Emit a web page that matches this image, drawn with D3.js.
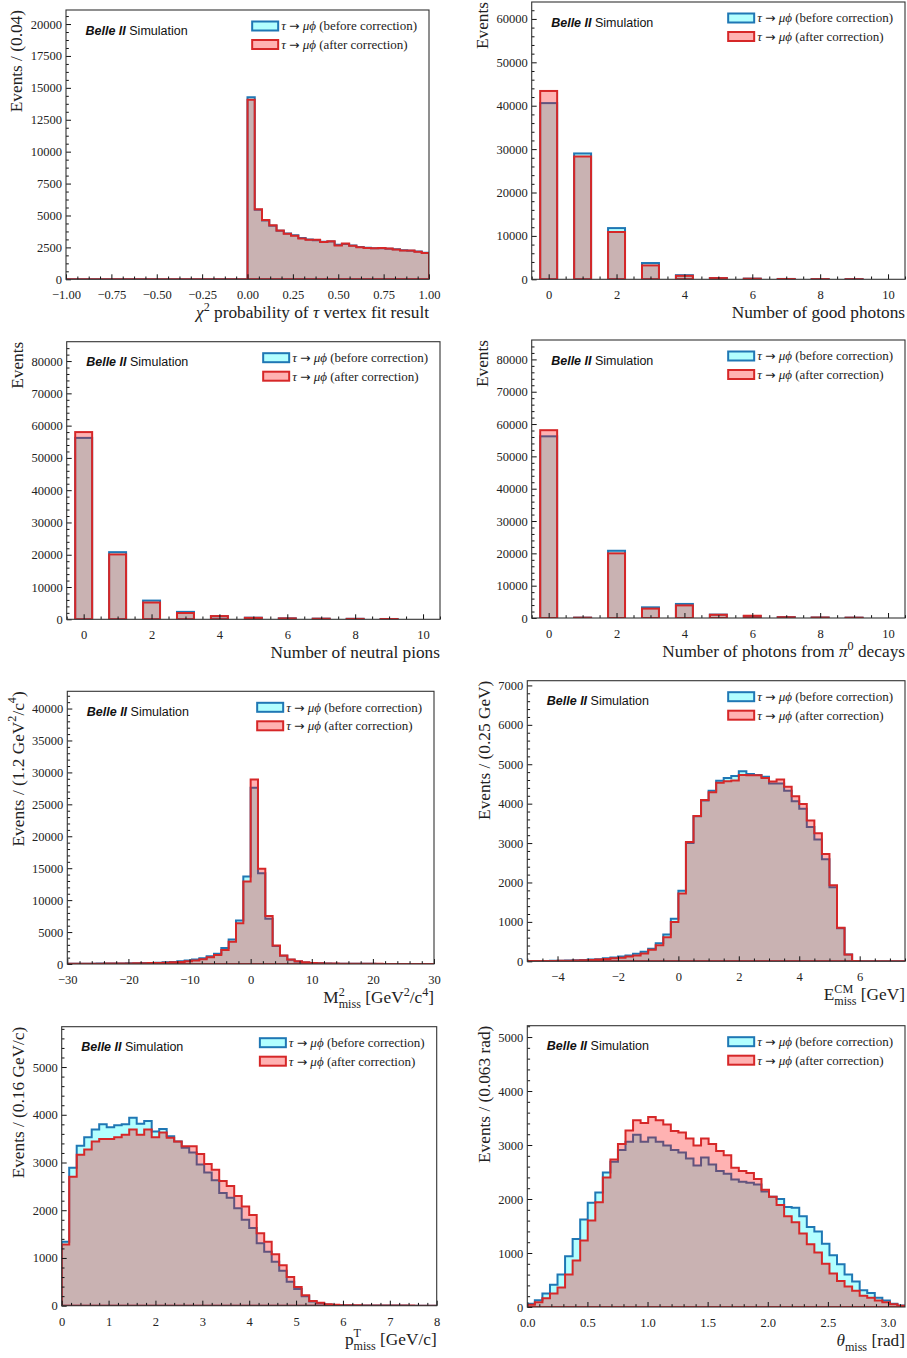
<!DOCTYPE html>
<html><head><meta charset="utf-8">
<script src="https://cdn.jsdelivr.net/npm/d3@7"></script>
<style>body{margin:0;background:#fff}svg{display:block}text{white-space:pre}</style>
</head><body>
<script>
// ---------------- DATA ----------------
// Panel 1: chi2 probability (50 bins, -1..1)
const chi2Range = [-1, 1];
const chi2Before = [0,0,0,0,0,0,0,0,0,0,0,0,0,0,0,0,0,0,0,0,0,0,0,0,0,
  14270,5450,4600,4200,3800,3580,3450,3230,3120,3060,2950,2960,2700,2760,2640,2540,2470,2440,2430,2400,2350,2280,2230,2170,2080];
const chi2After = [0,0,0,0,0,0,0,0,0,0,0,0,0,0,0,0,0,0,0,0,0,0,0,0,0,
  14070,5490,4650,4240,3820,3560,3420,3200,3100,3090,2930,2990,2650,2800,2620,2520,2450,2430,2460,2420,2330,2260,2250,2150,2060];
const chi2XTicks = [-1,-0.75,-0.5,-0.25,0,0.25,0.5,0.75,1];
const chi2YTicks = [0,2500,5000,7500,10000,12500,15000,17500,20000];

// Panel 2: number of good photons
const photonCats = [0,1,2,3,4,5,6,7,8,9];
const photonBefore = [40600,29000,11800,3750,950,300,150,80,50,30];
const photonAfter  = [43400,28300,10900,3200,800,280,140,70,40,25];

// Panel 3: number of neutral pions
const pionCats = [0,1,2,3,4,5,6,7,8,9];
const pionBefore = [56200,20800,5800,2300,950,500,300,200,150,100];
const pionAfter  = [58000,20100,5200,1950,1000,450,280,180,130,90];

// Panel 4: number of photons from pi0 decays
const pi0GammaCats = [0,1,2,3,4,5,6,7,8,9];
const pi0GammaBefore = [56200,100,20800,3300,4350,1050,600,300,150,100];
const pi0GammaAfter  = [58100,100,20000,2900,3900,1000,700,250,150,100];

const countXTicks = [0,2,4,6,8,10];
const photonYTicks = [0,10000,20000,30000,40000,50000,60000];
const pionYTicks = [0,10000,20000,30000,40000,50000,60000,70000,80000];

// Panel 5: M2 miss (50 bins, -30..30)
const m2Range = [-30, 30];
const m2Before = [40,45,50,55,60,70,80,90,100,120,140,170,210,260,330,420,550,700,900,1200,1600,2500,3850,6800,13700,
  27600,14200,7100,2800,1300,650,400,250,150,100,75,55,40,32,28,24,21,19,17,14,13,11,10,9,8];
const m2After = [40,40,45,50,55,60,70,80,90,100,120,140,170,210,260,320,420,550,750,1050,1400,2200,3500,6400,12900,
  28900,14900,7500,2900,1350,700,420,260,160,110,80,60,45,35,30,25,22,20,18,15,14,12,10,10,8];
const m2XTicks = [-30,-20,-10,0,10,20,30];
const m2YTicks = [0,5000,10000,15000,20000,25000,30000,35000,40000];

// Panel 6: E miss CM (50 bins, -5..7.5)
const eRange = [-5, 7.5];
const eBefore = [5,6,9,12,15,20,25,32,45,55,75,95,120,150,190,240,320,460,680,1080,
  1790,3000,3680,4080,4330,4580,4650,4700,4820,4750,4730,4680,4510,4510,4330,4060,3870,3410,3090,2590,
  1880,840,170,5,3,2,1,1,0,0];
const eAfter = [5,5,8,10,12,15,20,25,35,45,60,75,90,120,150,200,290,410,610,1000,
  1720,3030,3690,4090,4290,4530,4570,4590,4730,4720,4720,4650,4560,4610,4430,4190,3990,3570,3250,2720,
  1930,850,170,5,3,2,1,1,0,0];
const eXTicks = [-4,-2,0,2,4,6];
const eYTicks = [0,1000,2000,3000,4000,5000,6000,7000];

// Panel 7: pT miss (50 bins, 0..8)
const ptRange = [0, 8];
const ptBefore = [1340,2890,3350,3530,3690,3800,3740,3780,3800,3940,3810,3870,3650,3700,3550,3440,3310,3210,2960,2790,
  2630,2360,2260,2040,1800,1630,1310,1130,920,730,500,350,200,90,50,25,15,10,8,6,5,4,3,3,2,2,1,1,1,1];
const ptAfter = [1280,2700,3160,3270,3440,3490,3490,3530,3580,3690,3580,3690,3530,3630,3520,3440,3340,3340,3180,2970,
  2850,2610,2510,2300,2080,1900,1520,1340,1080,850,600,390,220,100,60,30,20,12,10,8,6,5,4,3,3,2,2,1,1,1];
const ptXTicks = [0,1,2,3,4,5,6,7,8];
const ptYTicks = [0,1000,2000,3000,4000,5000];

// Panel 8: theta miss (50 bins, 0..pi)
const thRange = [0, Math.PI];
const thBefore = [60,125,250,410,600,940,1260,1620,1930,2120,2490,2690,2910,3060,3190,3060,3140,3060,2990,2910,
  2860,2750,2620,2770,2640,2520,2470,2360,2320,2300,2270,2140,2040,2000,1850,1840,1680,1480,1400,1170,
  960,790,600,470,310,260,170,120,60,30];
const thAfter = [40,90,160,250,360,600,860,1230,1600,1940,2400,2730,3020,3270,3460,3410,3520,3460,3380,3260,
  3230,3120,2990,3120,3020,2890,2810,2580,2520,2480,2370,2170,2040,1890,1680,1570,1360,1160,1010,800,
  620,480,380,300,210,170,120,90,50,25];
const thXTicks = [0,0.5,1,1.5,2,2.5,3];
const thYTicks = [0,1000,2000,3000,4000,5000];

// Texts
const legendBefore = [{t:'τ',i:1},{t:' '},{t:'→',arrow:1},{t:' '},{t:'μϕ',i:1},{t:' (before correction)'}];
const legendAfter  = [{t:'τ',i:1},{t:' '},{t:'→',arrow:1},{t:' '},{t:'μϕ',i:1},{t:' (after correction)'}];

// ---------------- PANEL DEFINITIONS ----------------
const panels = [
  {kind:'hist', range:chi2Range, before:chi2Before, after:chi2After, yMax:21100,
   xTicks:chi2XTicks, xMinor:0.0625, yTicks:chi2YTicks, yMinor:625, xFmt:'.2f',
   xLabel:[{t:'χ',i:1},{t:'2',sup:1},{t:' probability of '},{t:'τ',i:1},{t:' vertex fit result'}],
   yLabel:[{t:'Events / (0.04)'}]},
  {kind:'bar', cats:photonCats, before:photonBefore, after:photonAfter, yMax:63900,
   xTicks:countXTicks, xMinor:0.5, yTicks:photonYTicks, yMinor:2000, xFmt:'d',
   xLabel:[{t:'Number of good photons'}], yLabel:[{t:'Events'}]},
  {kind:'bar', cats:pionCats, before:pionBefore, after:pionAfter, yMax:86000,
   xTicks:countXTicks, xMinor:0.5, yTicks:pionYTicks, yMinor:2000, xFmt:'d',
   xLabel:[{t:'Number of neutral pions'}], yLabel:[{t:'Events'}]},
  {kind:'bar', cats:pi0GammaCats, before:pi0GammaBefore, after:pi0GammaAfter, yMax:86000,
   xTicks:countXTicks, xMinor:0.5, yTicks:pionYTicks, yMinor:2000, xFmt:'d',
   xLabel:[{t:'Number of photons from '},{t:'π',i:1},{t:'0',sup:1},{t:' decays'}], yLabel:[{t:'Events'}]},
  {kind:'hist', range:m2Range, before:m2Before, after:m2After, yMax:42700,
   xTicks:m2XTicks, xMinor:2, yTicks:m2YTicks, yMinor:1000, xFmt:'d',
   xLabel:[{t:'M'},{t:'2',sup:1},{t:'miss',sub:1,stack:1},{t:' [GeV'},{t:'2',sup:1},{t:'/c'},{t:'4',sup:1},{t:']'}],
   yLabel:[{t:'Events / (1.2 GeV'},{t:'2',sup:1},{t:'/c'},{t:'4',sup:1},{t:')'}]},
  {kind:'hist', range:eRange, before:eBefore, after:eAfter, yMax:7120,
   xTicks:eXTicks, xMinor:0.5, yTicks:eYTicks, yMinor:200, xFmt:'d',
   xLabel:[{t:'E'},{t:'CM',sup:1},{t:'miss',sub:1,stack:1},{t:' [GeV]'}],
   yLabel:[{t:'Events / (0.25 GeV)'}]},
  {kind:'hist', range:ptRange, before:ptBefore, after:ptAfter, yMax:5845,
   xTicks:ptXTicks, xMinor:0.2, yTicks:ptYTicks, yMinor:200, xFmt:'d',
   xLabel:[{t:'p'},{t:'T',sup:1},{t:'miss',sub:1,stack:1},{t:' [GeV/c]'}],
   yLabel:[{t:'Events / (0.16 GeV/c)'}]},
  {kind:'hist', range:thRange, before:thBefore, after:thAfter, yMax:5210,
   xTicks:thXTicks, xMinor:0.1, yTicks:thYTicks, yMinor:200, xFmt:'.1f',
   xLabel:[{t:'θ',i:1},{t:'miss',sub:1},{t:' [rad]'}],
   yLabel:[{t:'Events / (0.063 rad)'}]}
];

// ---------------- LAYOUT / STYLE ----------------
const layout = [
  [66, 10, 429, 279.3],
  [531.7, 2, 905, 279.3],
  [66.7, 341.7, 440, 619.3],
  [531.7, 340, 905, 618],
  [67.3, 691.3, 434, 964],
  [527.3, 680.7, 905, 961.3],
  [61.7, 1026.7, 436.7, 1305.7],
  [527.3, 1025.7, 905, 1307]
];
const SERIF = '"Liberation Serif","Times New Roman",serif';
const SANS = '"Liberation Sans",Arial,sans-serif';
const blueFill = 'rgba(0,255,255,0.3)', blueEdge = '#1f77b4';
const redFill = 'rgba(255,0,0,0.3)', redEdge = '#d62728';
const tickFont = 12.5, labelFont = 17.3, legFont = 13;

const svg = d3.select('body').append('svg').attr('width', 907).attr('height', 1358);

function rich(textSel, segs, size) {
  let off = 0, lastSup = 0;
  segs.forEach(s => {
    const ts = textSel.append('tspan').text(s.t);
    let target = 0, fs = size;
    if (s.sup) { target = -size * 0.42; fs = size * 0.7; }
    if (s.sub) { target = size * 0.28; fs = size * 0.7; }
    ts.attr('font-size', fs);
    if (target - off !== 0) ts.attr('dy', target - off);
    off = target;
    if (s.i) ts.attr('font-style', 'italic');
    if (s.arrow) ts.attr('font-family', '"DejaVu Sans",sans-serif').attr('font-size', size * 0.95);
    if (s.stack) ts.attr('dx', -lastSup);
    if (s.sup) lastSup = ts.node().getComputedTextLength();
  });
  if (off !== 0) textSel.append('tspan').attr('dy', -off).text('');
}

panels.forEach((p, k) => {
  const [L, T, R, B] = layout[k];
  const g = svg.append('g');
  let x;
  if (p.kind === 'hist') x = d3.scaleLinear().domain(p.range).range([L, R]);
  else x = d3.scaleLinear().domain([-0.5, 10.5]).range([L, R]);
  const y = d3.scaleLinear().domain([0, p.yMax]).range([B, T]);

  const clipId = 'clip' + k;
  svg.append('clipPath').attr('id', clipId).append('rect')
    .attr('x', L).attr('y', T).attr('width', R - L).attr('height', B - T);
  const plot = g.append('g').attr('clip-path', `url(#${clipId})`);

  if (p.kind === 'hist') {
    const n = p.before.length;
    const w = (p.range[1] - p.range[0]) / n;
    const area = d3.area().x(d => x(d[0])).y0(y(0)).y1(d => y(d[1])).curve(d3.curveStepAfter);
    [[p.before, blueFill, blueEdge], [p.after, redFill, redEdge]].forEach(([vals, f, s]) => {
      const pts = vals.map((v, i) => [p.range[0] + i * w, v]);
      pts.push([p.range[1], vals[n - 1]]);
      plot.append('path').attr('d', area(pts)).attr('fill', f).attr('stroke', s)
        .attr('stroke-width', 2).attr('stroke-linejoin', 'miter');
    });
  } else {
    [[p.before, blueFill, blueEdge], [p.after, redFill, redEdge]].forEach(([vals, f, s]) => {
      plot.selectAll(null).data(p.cats).enter().append('rect')
        .attr('x', c => x(c - 0.25)).attr('width', c => x(c + 0.25) - x(c - 0.25))
        .attr('y', (c, i) => y(vals[i])).attr('height', (c, i) => y(0) - y(vals[i]))
        .attr('fill', f).attr('stroke', s).attr('stroke-width', 2);
    });
  }

  // axes
  const fmt = d3.format(p.xFmt);
  const xAx = g.append('g').attr('transform', `translate(0,${B})`)
    .call(d3.axisBottom(x).tickValues(p.xTicks).tickFormat(fmt).tickSizeInner(-5).tickSizeOuter(0).tickPadding(11.2));
  const xMin = d3.range(x.domain()[0], x.domain()[1] + 1e-9, p.xMinor).filter(v => !p.xTicks.some(t => Math.abs(t - v) < 1e-6));
  const xAxm = g.append('g').attr('transform', `translate(0,${B})`)
    .call(d3.axisBottom(x).tickValues(xMin).tickFormat('').tickSizeInner(-2.8).tickSizeOuter(0));
  const yAx = g.append('g').attr('transform', `translate(${L},0)`)
    .call(d3.axisLeft(y).tickValues(p.yTicks).tickFormat(d3.format('d')).tickSizeInner(-5).tickSizeOuter(0).tickPadding(4));
  const yMinV = d3.range(0, p.yMax, p.yMinor).filter(v => !p.yTicks.includes(v));
  const yAxm = g.append('g').attr('transform', `translate(${L},0)`)
    .call(d3.axisLeft(y).tickValues(yMinV).tickFormat('').tickSizeInner(-2.8).tickSizeOuter(0));
  [xAx, xAxm, yAx, yAxm].forEach(a => {
    a.select('.domain').remove();
    a.selectAll('line').attr('stroke', '#111').attr('stroke-width', 1);
    a.selectAll('text').attr('font-family', SERIF).attr('font-size', tickFont).attr('fill', '#222');
  });
  // frame
  g.append('rect').attr('x', L).attr('y', T).attr('width', R - L).attr('height', B - T)
    .attr('fill', 'none').attr('stroke', '#333').attr('stroke-width', 1.1);

  // y label position from tick label widths
  let maxW = 0;
  yAx.selectAll('text').each(function () { maxW = Math.max(maxW, this.getBBox().width); });
  const ylx = L - 4 - maxW - 8.5;
  const yl = g.append('text').attr('transform', `translate(${ylx},${T}) rotate(-90)`)
    .attr('text-anchor', 'end').attr('font-family', SERIF).attr('font-size', labelFont).attr('fill', '#222');
  rich(yl, p.yLabel, labelFont);

  const xl = g.append('text').attr('x', R).attr('y', B + 39).attr('text-anchor', 'end')
    .attr('font-family', SERIF).attr('font-size', labelFont).attr('fill', '#222');
  rich(xl, p.xLabel, labelFont);

  // Belle II Simulation
  const bt = g.append('text').attr('x', L + 19.5).attr('y', T + 24.5)
    .attr('font-family', SANS).attr('font-size', 12.5).attr('fill', '#111');
  bt.append('tspan').attr('font-weight', 'bold').attr('font-style', 'italic').text('Belle II');
  bt.append('tspan').text(' Simulation');

  // legend
  const legRows = [[legendBefore, blueFill, blueEdge, 16], [legendAfter, redFill, redEdge, 34.5]];
  const legTexts = legRows.map(([segs, f, s, dy]) => {
    const tx = g.append('text').attr('font-family', SERIF).attr('font-size', legFont).attr('fill', '#222')
      .attr('y', T + dy + 4.3);
    rich(tx, segs, legFont);
    return tx;
  });
  const wBefore = legTexts[0].node().getComputedTextLength();
  const textStart = R - 12 - wBefore;
  legTexts.forEach(t => t.attr('x', textStart));
  legRows.forEach(([segs, f, s, dy]) => {
    g.append('rect').attr('x', textStart - 29).attr('y', T + dy - 4.5).attr('width', 26).attr('height', 9)
      .attr('fill', f).attr('stroke', s).attr('stroke-width', 2);
  });
});
</script>
</body></html>
